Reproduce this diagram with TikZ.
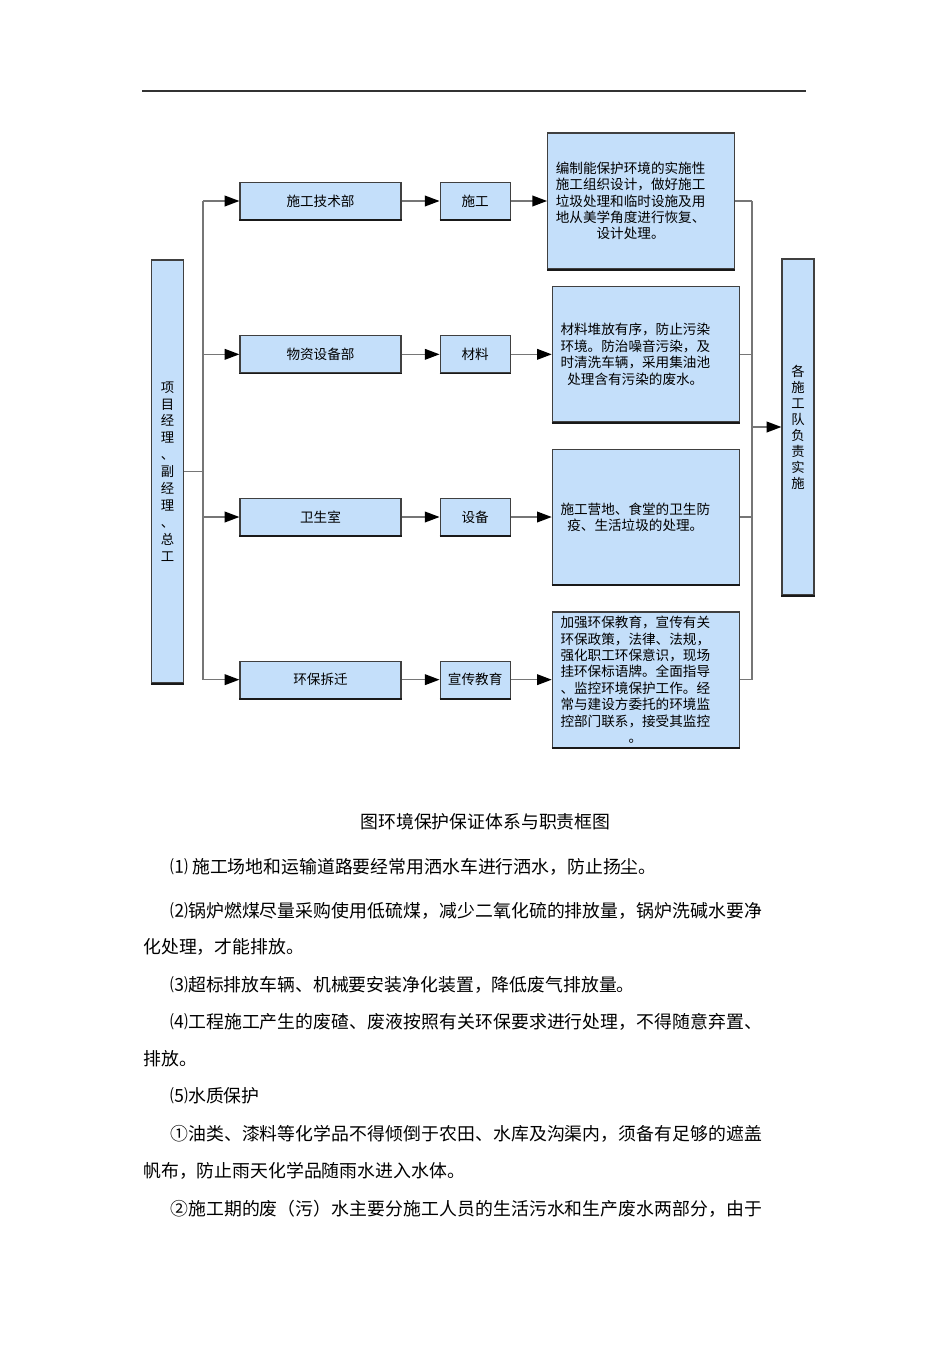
\documentclass[tikz,border=0pt]{standalone}
\usepackage{fontspec}
\setmainfont{Noto Sans CJK SC}
\usepackage{tikz}
\usetikzlibrary{arrows.meta, positioning}

\definecolor{boxblue}{RGB}{196,223,250}
\definecolor{linegray}{RGB}{118,118,118}

\makeatletter
\newcommand\spreadline[1]{\hbox to 444pt{\@tfor\ch:=#1\do{\ch\hfil}\unskip}}
\makeatother

\tikzset{
  box/.style={draw=black!75, line width=0.9pt, fill=boxblue, inner sep=0pt,
              font=\fontsize{10.2}{12.2}\selectfont,
              append after command={(\tikzlastnode.south west)
                edge[draw=black!90, line width=1.4pt] (\tikzlastnode.south east)}},
  dept/.style={box, minimum width=120.75pt, minimum height=27.75pt},
  task/.style={box, minimum width=52.5pt, minimum height=27.75pt},
  duty/.style={box, minimum width=140.25pt, minimum height=101.5pt},
  side/.style={box, minimum width=24pt, align=center},
  duty text/.style={text width=113pt, align=center, inner sep=0pt,
                    font=\fontsize{10.2}{12.3}\selectfont},
  link/.style={draw=linegray, line width=1.1pt},
  arr/.style={link, -{Triangle[length=11pt, width=8pt, color=black]}},
  body/.style={anchor=west, inner sep=0pt, font=\fontsize{13.4}{16}\selectfont},
}

\begin{document}
\begin{tikzpicture}[x=0.75pt, y=-0.75pt, node distance=116pt]
  \useasboundingbox (0,0) rectangle (950,1345);
  \draw[black!80, line width=1.2pt] (142,91) -- (806,91);

  % left and right columns
  \node[side, minimum height=317.25pt, font=\fontsize{10}{12.7}\selectfont] (lead) at (167.5,471.5)
    {项\\目\\经\\理\\、\\副\\经\\理\\、\\总\\工};
  \node[side, minimum height=252pt, font=\fontsize{10}{12}\selectfont] (crew) at (798,427)
    {各\\施\\工\\队\\负\\责\\实\\施};

  % departments
  \node[dept] (dep1) at (320.5,201) {施工技术部};
  \node[dept] (dep2) [below of=dep1, node distance=115pt] {物资设备部};
  \node[dept] (dep3) [below of=dep2, node distance=122pt] {卫生室};
  \node[dept] (dep4) [below of=dep3, node distance=122pt] {环保拆迁};

  \node[task] (job1) [right of=dep1] {施工};
  \node[task] (job2) [right of=dep2] {材料};
  \node[task] (job3) [right of=dep3] {设备};
  \node[task] (job4) [right of=dep4] {宣传教育};

  \node[duty, minimum height=102pt] (duty1) [right of=job1, node distance=124.5pt] {};
  \node[duty] (duty2) [right of=job2, node distance=128pt] {};
  \node[duty] (duty3) [right of=job3, node distance=128pt] {};
  \node[duty] (duty4) [right of=job4, node distance=128pt] {};

  \node[duty text] (note1) at ([xshift=-7.9pt]duty1.center)
    {编制能保护环境的实施性\\施工组织设计，做好施工\\垃圾处理和临时设施及用\\地从美学角度进行恢复、\\设计处理。};
  \node[duty text] (note2) at ([xshift=-7.9pt]duty2.center)
    {材料堆放有序，防止污染\\环境。防治噪音污染，及\\时清洗车辆，采用集油池\\处理含有污染的废水。};
  \node[duty text] (note3) at ([xshift=-7.9pt]duty3.center)
    {施工营地、食堂的卫生防\\疫、生活垃圾的处理。};
  \node[duty text] (note4) at ([xshift=-7.9pt]duty4.center)
    {加强环保教育，宣传有关\\环保政策，法律、法规，\\强化职工环保意识，现场\\挂环保标语牌。全面指导\\、监控环境保护工作。经\\常与建设方委托的环境监\\控部门联系，接受其监控\\。};

  % connectors
  \coordinate (lbus) at (203,201);
  \coordinate (rbus) at (752,201);
  \draw[link] (lead) -- (lead -| lbus);
  \draw[link] (lbus |- dep1) -- (lbus |- dep4);
  \foreach \i in {1,...,4} {
    \draw[arr] (lbus |- dep\i) -- (dep\i);
    \draw[arr] (dep\i) -- (job\i);
    \draw[arr] (job\i) -- (duty\i);
    \draw[link] (duty\i) -- (rbus |- duty\i);
  }
  \draw[link] (rbus |- duty1) -- (rbus |- duty4);
  \draw[arr] (rbus |- crew) -- (crew);

  % caption and text
  \node[body, anchor=center] (cap) at (485.5,822) {图环境保护保证体系与职责框图};
  \node[body] (p1) at (170,867) {⑴ 施工场地和运输道路要经常用洒水车进行洒水，防止扬尘。};
  \node[body] (p2a) at (170,911) {\spreadline{⑵锅炉燃煤尽量采购使用低硫煤，减少二氧化硫的排放量，锅炉洗碱水要净}};
  \node[body] (p2b) at (143,947) {化处理，才能排放。};
  \node[body] (p3) at (170,985) {⑶超标排放车辆、机械要安装净化装置，降低废气排放量。};
  \node[body] (p4a) at (170,1022) {\spreadline{⑷工程施工产生的废碴、废液按照有关环保要求进行处理，不得随意弃置、}};
  \node[body] (p4b) at (143,1059) {排放。};
  \node[body] (p5) at (170,1096) {⑸水质保护};
  \node[body] (p6a) at (170,1134) {\spreadline{①油类、漆料等化学品不得倾倒于农田、水库及沟渠内，须备有足够的遮盖}};
  \node[body] (p6b) at (143,1171) {帆布，防止雨天化学品随雨水进入水体。};
  \node[body] (p7) at (170,1209) {\spreadline{②施工期的废（污）水主要分施工人员的生活污水和生产废水两部分，由于}};
\end{tikzpicture}
\end{document}
